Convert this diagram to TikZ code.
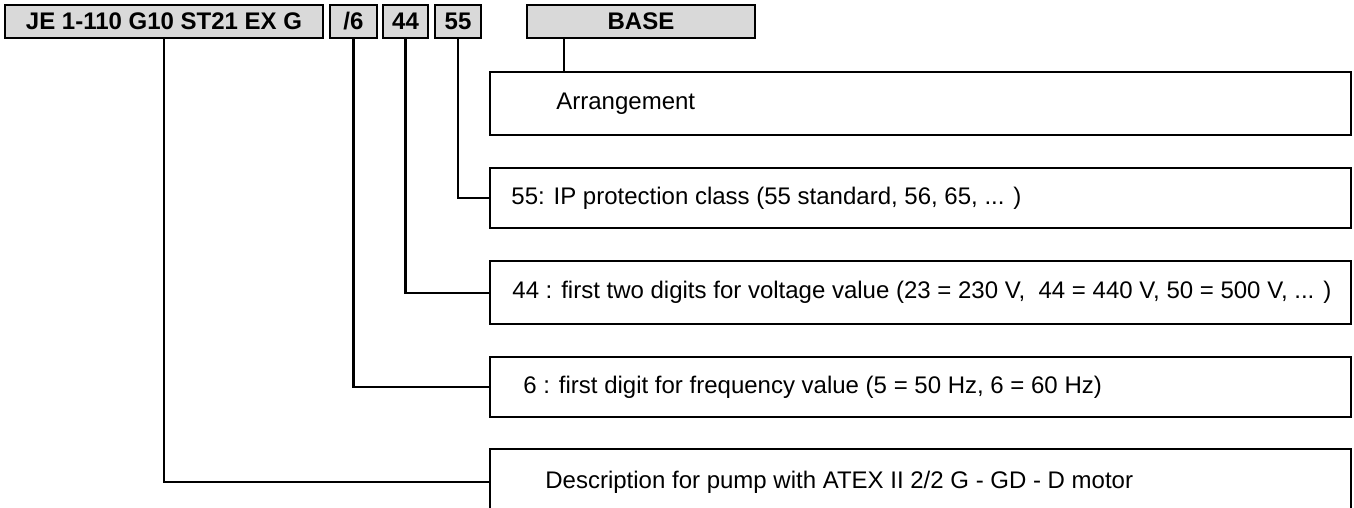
\documentclass[tikz,border=0pt]{standalone}
\usepackage{fontspec}
\setmainfont{Liberation Sans}
\usetikzlibrary{positioning}

\begin{document}
\begin{tikzpicture}[x=0.5pt,y=-0.5pt,
  codebox/.style={draw,line width=1.1pt,fill=gray!30,inner sep=0pt,minimum height=16.5pt,
    font=\fontsize{12}{14}\selectfont\bfseries},
  descbox/.style={draw,line width=1.1pt,anchor=north west,inner sep=0pt,minimum width=430.5pt},
  desctext/.style={anchor=west,inner sep=0pt,font=\fontsize{12}{14}\selectfont},
  link/.style={line width=1.1pt}]
\useasboundingbox (0,0) rectangle (1354,508);
% code fields on top
\node[codebox,minimum width=159pt] (je) at (164,21.5) {JE 1-110 G10 ST21 EX G};
\node[codebox,minimum width=23.5pt] (hz) at (353.5,21.5) {/6};
\node[codebox,minimum width=22.5pt] (volt) at (405.5,21.5) {44};
\node[codebox,minimum width=23pt] (ip) at (458,21.5) {55};
\node[codebox,minimum width=114pt] (base) at (641,21.5) {BASE};
% explanation boxes
\node[descbox,minimum height=31.5pt] (arrbox) at (489,71) {};
\node[descbox,minimum height=30pt] (ipbox) at (489,167) {};
\node[descbox,minimum height=31.5pt] (voltbox) at (489,260) {};
\node[descbox,minimum height=30pt] (hzbox) at (489,356) {};
\node[descbox,minimum height=33pt] (jebox) at (489,448) {};
\node[desctext] (arrtext) at ([xshift=33.5pt]arrbox.west) {Arrangement};
\node[desctext] (iptext) at ([xshift=11pt]ipbox.west) {55: IP protection class (55 standard, 56, 65, ... )};
\node[desctext] (volttext) at ([xshift=11.5pt]voltbox.west) {44 : first two digits for voltage value (23 = 230 V,\ \ 44 = 440 V, 50 = 500 V, ... )};
\node[desctext] (hztext) at ([xshift=17pt]hzbox.west) {6 : first digit for frequency value (5 = 50 Hz, 6 = 60 Hz)};
\node[desctext] (jetext) at ([xshift=28pt]jebox.west) {Description for pump with ATEX II 2/2 G - GD - D motor};
% connectors
\coordinate (basetap) at ([xshift=19pt]base.south west);
\draw[link] (basetap) -- (basetap |- arrbox.north);
\draw[link] (ip.south) |- (ipbox.west);
\draw[link] (volt.south) |- (voltbox.west);
\draw[link] (hz.south) |- (hzbox.west);
\draw[link] (je.south) |- (jebox.west);
\end{tikzpicture}
\end{document}
